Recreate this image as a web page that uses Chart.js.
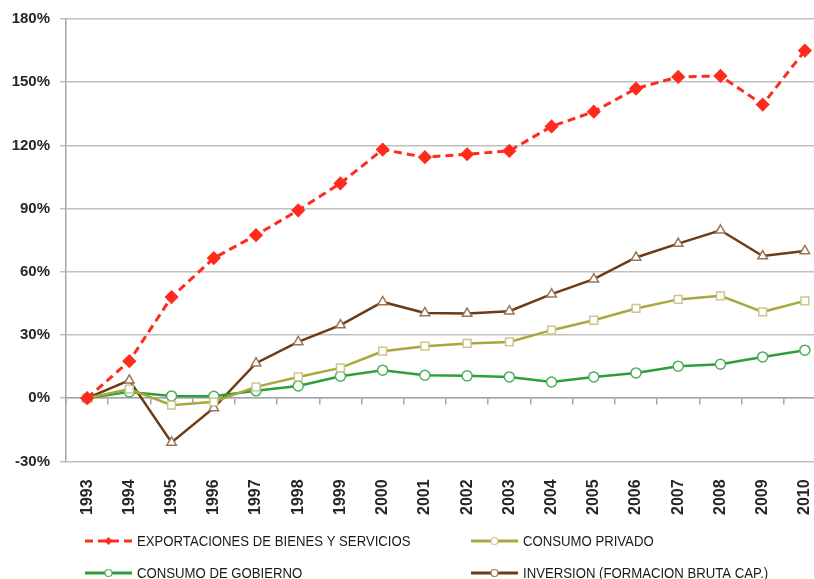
<!DOCTYPE html>
<html>
<head>
<meta charset="utf-8">
<script src="https://cdn.jsdelivr.net/npm/chart.js@4/dist/chart.umd.min.js"></script>
<style>
html,body{margin:0;padding:0;background:#fff;overflow:hidden;}
#wrap{position:absolute;left:0;top:0;width:846px;height:579px;}
</style>
</head>
<body>
<div id="wrap"><canvas id="c" width="846" height="579"></canvas></div>
<script>
const years = ['1993','1994','1995','1996','1997','1998','1999','2000','2001','2002','2003','2004','2005','2006','2007','2008','2009','2010'];
const exportaciones = [0,17.6,48,66.5,77.4,89.2,102,118,114.4,115.8,117.4,129,136,147,152.5,153,139.4,165];
const consumoPrivado = [0,4.3,-3.3,-1.7,5.4,10.1,14.4,22.3,24.7,26,26.7,32.3,37,42.6,46.9,48.6,41,46.2];
const consumoGobierno = [0,3,1.1,0.9,3.5,5.8,10.4,13.3,10.9,10.6,10.1,7.7,10.1,12,15.2,16.1,19.6,22.8];
const inversion = [0,8.5,-21,-4.6,16.6,26.7,34.7,45.7,40.5,40.2,41.3,49.4,56.5,66.8,73.4,79.7,67.5,69.9];
const yTicks = [-30,0,30,60,90,120,150,180];
const seriesNames = ['EXPORTACIONES DE BIENES Y SERVICIOS','CONSUMO PRIVADO','CONSUMO DE GOBIERNO','INVERSION (FORMACION BRUTA CAP.)'];

const legendPlugin = {
  id: 'gridLegend',
  afterDraw(chart) {
    const ctx = chart.ctx;
    const pos = [[85,541],[471,541],[85,573],[471,573]];
    chart.data.datasets.forEach((ds, i) => {
      const [x, y] = pos[i];
      ctx.save();
      ctx.strokeStyle = ds.borderColor;
      ctx.lineWidth = 3;
      ctx.setLineDash(ds.borderDash || []);
      ctx.beginPath(); ctx.moveTo(x, y); ctx.lineTo(x + 47, y); ctx.stroke();
      ctx.setLineDash([]);
      const cx = x + 23.5;
      ctx.fillStyle = ds.pointBackgroundColor;
      ctx.strokeStyle = ds.pointBorderColor;
      ctx.lineWidth = 1.2;
      if (ds.pointStyle === 'rectRot') {
        ctx.beginPath(); ctx.moveTo(cx, y-4); ctx.lineTo(cx+4, y); ctx.lineTo(cx, y+4); ctx.lineTo(cx-4, y); ctx.closePath(); ctx.fill();
      } else {
        ctx.beginPath(); ctx.arc(cx, y, 3.5, 0, Math.PI*2); ctx.fill(); ctx.stroke();
      }
      ctx.fillStyle = '#1a1a1a';
      ctx.font = '14px "Liberation Sans", Arial, sans-serif';
      ctx.textBaseline = 'middle';
      ctx.translate(x + 52, y + 1);
      ctx.scale(0.94, 1);
      ctx.fillText(seriesNames[i], 0, 0);
      ctx.restore();
    });
  }
};

new Chart(document.getElementById('c'), {
  type: 'line',
  data: {
    labels: years,
    datasets: [
      {label: seriesNames[0], data: exportaciones, borderColor: '#ff2b1c', borderWidth: 3, borderDash: [8,5],
       pointStyle: 'rectRot', pointRadius: 5, pointBackgroundColor: '#ff2b1c', pointBorderColor: '#ff2b1c', tension: 0, xAxisID: 'x'},
      {label: seriesNames[1], data: consumoPrivado, borderColor: '#a8a83c', borderWidth: 2.5,
       pointStyle: 'rect', pointRadius: 5.5, pointBackgroundColor: '#ffffff', pointBorderColor: '#c8c890', pointBorderWidth: 1.5, tension: 0, xAxisID: 'x'},
      {label: seriesNames[2], data: consumoGobierno, borderColor: '#2e9e3c', borderWidth: 2.5,
       pointStyle: 'circle', pointRadius: 5, pointBackgroundColor: '#ffffff', pointBorderColor: '#4caf5a', pointBorderWidth: 1.5, tension: 0, xAxisID: 'x'},
      {label: seriesNames[3], data: inversion, borderColor: '#6b3c17', borderWidth: 2.5,
       pointStyle: 'triangle', pointRadius: 5.5, pointBackgroundColor: '#ffffff', pointBorderColor: '#9a7658', pointBorderWidth: 1.5, tension: 0, xAxisID: 'x'}
    ]
  },
  options: {
    responsive: false,
    animation: false,
    layout: {padding: {left: 0, right: 20, top: 11, bottom: 46}},
    plugins: {legend: {display: false}, tooltip: {enabled: false}},
    scales: {
      y: {
        min: -30, max: 180,
        afterBuildTicks: (axis) => { axis.ticks = yTicks.map(v => ({value: v})); },
        ticks: {callback: v => v + '%', color: '#262626', font: {family: '"Liberation Sans", Arial, sans-serif', size: 15, weight: 'bold'}, padding: 10},
        grid: {color: '#c0c0c0', lineWidth: 1.5, tickLength: 6, drawTicks: true},
        border: {display: true, color: '#a6a6a6', width: 1.5},
        afterFit: (axis) => { axis.width = 66; }
      },
      x: {
        type: 'category', offset: true, position: 'bottom',
        ticks: {maxRotation: 90, minRotation: 90, color: '#262626', font: {family: '"Liberation Sans", Arial, sans-serif', size: 16, weight: 'bold'}, padding: 18},
        grid: {display: false, drawOnChartArea: false, drawTicks: false},
        border: {display: false}
      },
      x2: {
        type: 'category', labels: years, offset: true, position: {y: 0},
        ticks: {display: false},
        grid: {drawOnChartArea: false, drawTicks: true, tickLength: 6, color: '#a6a6a6', lineWidth: 1.5, offset: true},
        border: {display: true, color: '#a6a6a6', width: 1.5}
      }
    }
  },
  plugins: [legendPlugin]
});
</script>
</body>
</html>
